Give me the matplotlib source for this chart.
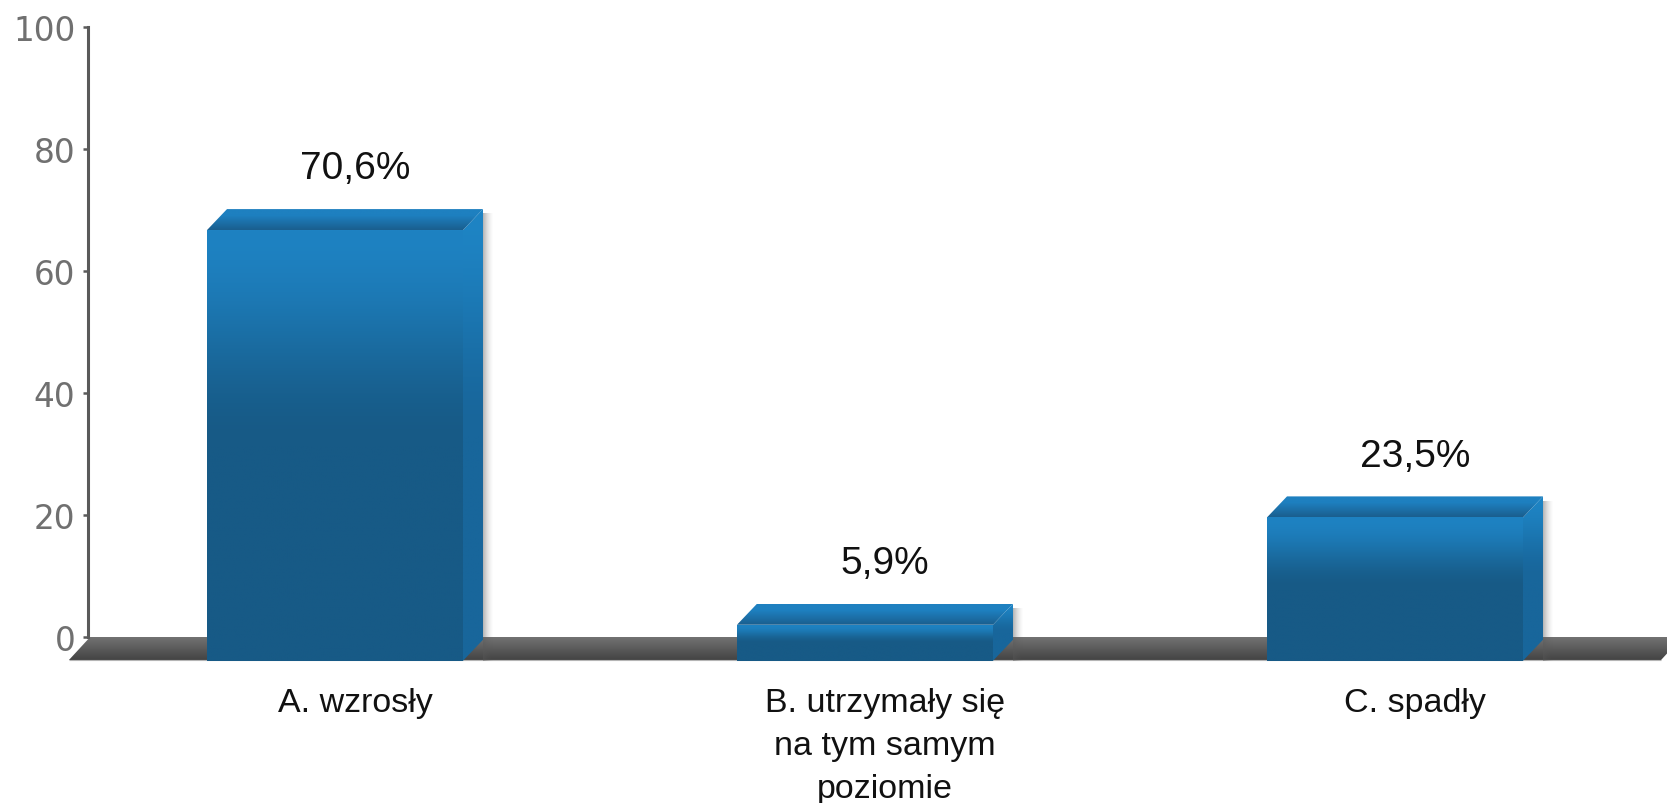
import numpy as np
import matplotlib
matplotlib.use("Agg")
import matplotlib.pyplot as plt
from matplotlib.patches import Polygon
from matplotlib.colors import to_rgb

# ---- data ----
categories = ["A. wzrosły", "B. utrzymały się\nna tym samym\npoziomie", "C. spadły"]
values = [70.6, 5.9, 23.5]
value_labels = ["70,6%", "5,9%", "23,5%"]
yticks = [0, 20, 40, 60, 80, 100]

# ---- geometry (pixels -> data) ----
PX_X = 530.0   # pixels per category step
PX_Y = 6.1     # pixels per y unit
BAR_W = 256 / PX_X
DX = 20 / PX_X
DY = 21 / PX_Y
BASE = -0.45   # bars sit slightly below the axis zero

fig = plt.figure(figsize=(16.67, 8.04), dpi=100)
fig.patch.set_facecolor("white")
xlim = (-0.55, 2.55)
ylim = (-10, 100)
left_px = 335 - 0.55 * PX_X
ax = fig.add_axes([left_px / 1667, (804 - (638 + 10 * PX_Y)) / 804,
                   (xlim[1] - xlim[0]) * PX_X / 1667, (ylim[1] - ylim[0]) * PX_Y / 804])
ax.set_facecolor("none")


def lerp(c1, c2, t):
    a = np.array(to_rgb(c1)); b = np.array(to_rgb(c2))
    return a * (1 - t) + b * t


def vgrad(c_bottom, c_top, n=256, fn=None):
    """array with origin lower: row 0 = bottom."""
    rows = []
    for i in range(n):
        u = i / (n - 1)  # 0 bottom, 1 top
        t = fn(u) if fn else u
        rows.append(lerp(c_bottom, c_top, t))
    arr = np.array(rows)[:, None, :]
    return np.repeat(arr, 2, axis=1)


def grad_patch(verts, arr, z):
    verts = np.array(verts)
    poly = Polygon(verts, closed=True, facecolor="none", edgecolor="none",
                   transform=ax.transData)
    ax.add_patch(poly)
    ext = [verts[:, 0].min(), verts[:, 0].max(), verts[:, 1].min(), verts[:, 1].max()]
    im = ax.imshow(arr, extent=ext, origin="lower", aspect="auto",
                   interpolation="bilinear", zorder=z)
    im.set_clip_path(poly)
    return im


# ---- floor ----
fl = 23 / PX_Y
floor = [(-0.502, -fl), (2.502, -fl), (2.542, 0), (-0.462, 0)]
grad_patch(floor, vgrad("#444444", "#727272"), 1)
ax.plot([-0.502, 2.502], [-fl, -fl], color="#b5b5b5", lw=0.8, zorder=1.5,
        solid_capstyle="butt")

FRONT_LIGHT, FRONT_DARK = "#1e82c2", "#175a86"
SIDE_LIGHT, SIDE_DARK = "#1e84c4", "#18669b"
TOP_BACK, TOP_FRONT = "#1e80c0", "#1a5e8e"


def front_fn(u):
    f = 1 - u  # 0 top, 1 bottom
    t = min(f / 0.5, 1.0)
    return 1 - (t * t * (3 - 2 * t))


for i, v in enumerate(values):
    c = i
    x0, x1 = c - BAR_W / 2, c + BAR_W / 2
    b = BASE
    # shadow to the right of the bar
    sw = 11 / PX_X
    sh = np.zeros((2, 32, 4))
    for k in range(32):
        sh[:, k, :3] = 0.35
        sh[:, k, 3] = 0.45 * (1 - k / 31) ** 1.6
    ax.imshow(sh, extent=[x1 + DX, x1 + DX + sw, b - DY, v - 1.2], origin="lower",
              aspect="auto", interpolation="bilinear", zorder=2)
    # front face
    front = [(x0, b - DY), (x1, b - DY), (x1, v + b - DY), (x0, v + b - DY)]
    grad_patch(front, vgrad(FRONT_DARK, FRONT_LIGHT, fn=front_fn), 3)
    # right side face
    side = [(x1, b - DY), (x1 + DX, b), (x1 + DX, v + b), (x1, v + b - DY)]
    grad_patch(side, vgrad(SIDE_DARK, SIDE_LIGHT, fn=front_fn), 3)
    # top face
    top = [(x0, v + b - DY), (x1, v + b - DY), (x1 + DX, v + b), (x0 + DX, v + b)]
    grad_patch(top, vgrad(TOP_FRONT, TOP_BACK, fn=lambda u: min(u / 0.7, 1.0)), 3)
    # value label
    ax.text(c + 20 / PX_X, v + 4.6, value_labels[i], ha="center", va="baseline",
            fontsize=28, family="Liberation Sans", color="#111111", zorder=5)
    # category label
    ax.text(c + 20 / PX_X, -50 / PX_Y, categories[i], ha="center", va="top",
            multialignment="center", linespacing=1.5,
            fontsize=24.5, family="Liberation Sans", color="#111111", zorder=5)

# ---- axes ----
ax.set_xlim(*xlim)
ax.set_ylim(*ylim)
for s in ["top", "right", "bottom"]:
    ax.spines[s].set_visible(False)
ax.spines["left"].set_position(("data", (88 - 335) / PX_X))
ax.spines["left"].set_bounds(0, 100)
ax.spines["left"].set_color("#5a5a5a")
ax.spines["left"].set_linewidth(2.2)
ax.spines["left"].set_zorder(4)
ax.set_xticks([])
ax.set_yticks(yticks)
ax.set_yticklabels([str(t) for t in yticks])
ax.tick_params(axis="y", direction="out", length=3.6, width=1.8, color="#5a5a5a",
               labelcolor="#707070", labelsize=23.5, pad=5.5)
for lab in ax.get_yticklabels():
    lab.set_family("DejaVu Sans")

fig.savefig("out.png", dpi=100, facecolor="white")
